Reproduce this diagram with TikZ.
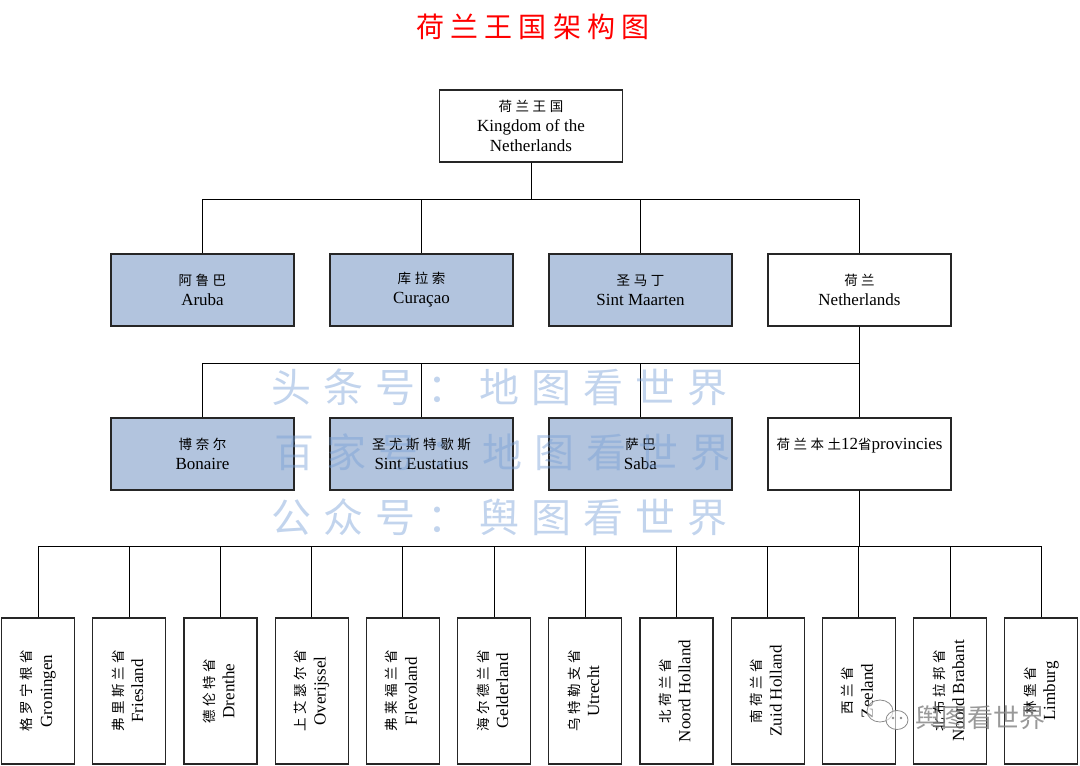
\documentclass[tikz,border=0pt]{standalone}
\usepackage{fontspec}
\setmainfont{Liberation Serif}
\newfontfamily\cjk[LetterSpace=26]{Noto Sans CJK SC}
\newfontfamily\cjktitle[LetterSpace=22]{Noto Sans CJK SC}
\newfontfamily\cjkmark[LetterSpace=30]{Noto Sans CJK SC}
\newfontfamily\cjklogo{Noto Sans CJK SC}
\usetikzlibrary{positioning}
\definecolor{boxblue}{RGB}{178,196,222}
\definecolor{markblue}{RGB}{120,160,215}
\newcommand{\zh}[1]{{\cjk\fontsize{13.5}{20}\selectfont #1}}

\begin{document}
\begin{tikzpicture}[
  x=1pt, y=-1pt,
  font=\fontsize{17}{20}\selectfont,
  whitebox/.style={rectangle, draw=black!85, line width=1.2pt, fill=white, minimum width=183pt, minimum height=72pt, align=center, inner sep=0pt},
  bluebox/.style={whitebox, fill=boxblue},
  provbox/.style={rectangle, draw=black!85, line width=1.2pt, fill=white, minimum width=73pt, minimum height=146pt, inner sep=0pt},
  link/.style={line width=1pt},
  watermark/.style={anchor=west, text=markblue, opacity=0.45, font=\cjkmark\fontsize{40}{40}\selectfont}
]
\useasboundingbox (0,0) rectangle (1080,766);

%Title
\node[anchor=west, text=red, font=\cjktitle\fontsize{28}{28}\selectfont] (title) at (413,27) {荷兰王国架构图};

%Nodes
\node[whitebox] (root) at (531,126) {\zh{荷兰王国}\\Kingdom of the\\Netherlands};

\node[bluebox] (aruba) at (202.5,290) {\zh{阿鲁巴}\\Aruba};
\node[bluebox, right=34.8pt of aruba] (curacao) {\zh{库拉索}\\Curaçao};
\node[bluebox, right=34.8pt of curacao] (sintmaarten) {\zh{圣马丁}\\Sint Maarten};
\node[whitebox, right=34.8pt of sintmaarten] (nl) {\zh{荷兰}\\Netherlands};

\node[bluebox, below=90.8pt of aruba] (bonaire) {\zh{博奈尔}\\Bonaire};
\node[bluebox, right=34.8pt of bonaire] (eustatius) {\zh{圣尤斯特歇斯}\\Sint Eustatius};
\node[bluebox, right=34.8pt of eustatius] (saba) {\zh{萨巴}\\Saba};
\node[whitebox, right=34.8pt of saba] (prov) {\zh{荷兰本土}12\zh{省}provincies\\\mbox{}};

\foreach \i/\cn/\en in {1/格罗宁根省/Groningen, 2/弗里斯兰省/Friesland, 3/德伦特省/Drenthe,
  4/上艾瑟尔省/Overijssel, 5/弗莱福兰省/Flevoland, 6/海尔德兰省/Gelderland,
  7/乌特勒支省/Utrecht, 8/北荷兰省/Noord Holland, 9/南荷兰省/Zuid Holland,
  10/西兰省/Zeeland, 11/北布拉邦省/Noord Brabant, 12/林堡省/Limburg}
  \node[provbox] (p\i) at ({38+91.2*(\i-1)},691)
    {\rotatebox{90}{\begin{tabular}{@{}c@{}}\zh{\cn}\\\en\end{tabular}}};

%Lines
\foreach \c in {aruba,curacao,sintmaarten,nl}
  \draw[link] (root.south) -- ++(0,37) -| (\c.north);
\foreach \c in {bonaire,eustatius,saba,prov}
  \draw[link] (nl.south) -- ++(0,37) -| (\c.north);
\foreach \i in {1,...,12}
  \draw[link] (prov.south) -- ++(0,56) -| (p\i.north);

%Watermarks
\node[watermark] (mark1) at (268,387) {头条号：地图看世界};
\node[watermark] (mark2) at (271,452) {百家号：地图看世界};
\node[watermark] (mark3) at (268,517) {公众号：舆图看世界};

\node[anchor=west, text=black!50, opacity=0.8, font=\cjklogo\fontsize{26}{26}\selectfont] (logo) at (912,718) {舆图看世界};
\draw[black!45, line width=0.8pt, fill=white, fill opacity=0.6] (880,711) ellipse (13 and 11);
\draw[black!45, line width=0.8pt, fill=white, fill opacity=0.6] (897,720) ellipse (11 and 9.5);
\fill[black!45] (893,718) circle (1.3) (901,718) circle (1.3);
\end{tikzpicture}
\end{document}
